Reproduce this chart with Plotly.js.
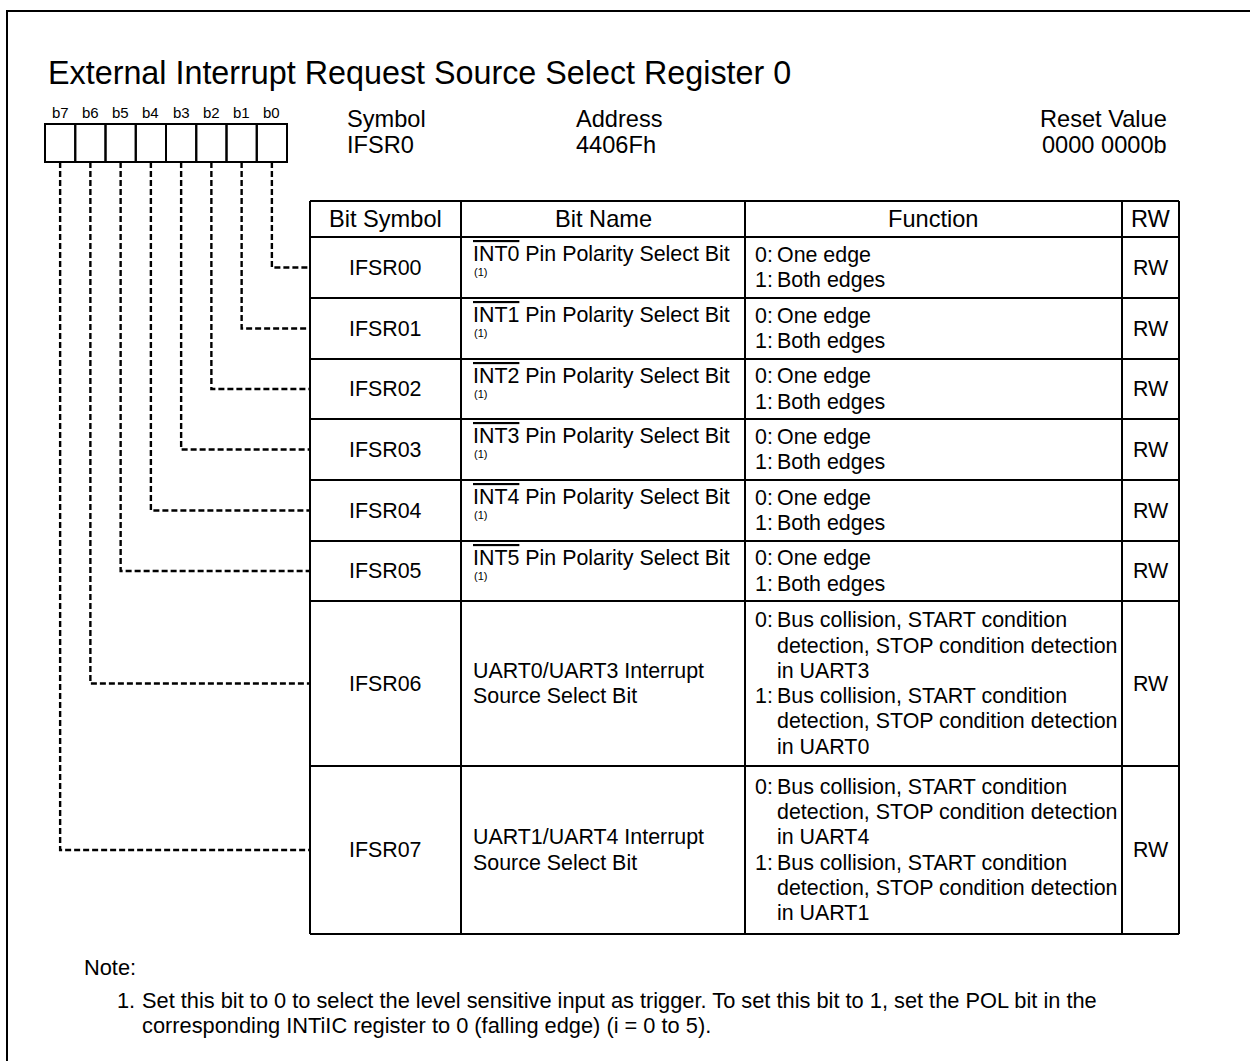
<!DOCTYPE html>
<html>
<head>
<meta charset="utf-8">
<script src="https://cdn.plot.ly/plotly-3.0.1.min.js"></script>
<style>html,body{margin:0;padding:0;background:#fff;}#chart{width:1250px;height:1061px;}</style>
</head>
<body>
<div id="chart"></div>
<script>
// ---- data ----
const chartTitle = 'External Interrupt Request Source Select Register 0';
const bitLabels = ['b7','b6','b5','b4','b3','b2','b1','b0'];
const infoLabels = ['Symbol','Address','Reset Value'];
const infoValues = ['IFSR0','4406Fh','0000 0000b'];
const headers = ['Bit Symbol','Bit Name','Function','RW'];
const bitSymbols = ['IFSR00','IFSR01','IFSR02','IFSR03','IFSR04','IFSR05','IFSR06','IFSR07'];
const pinNames = ['INT0','INT1','INT2','INT3','INT4','INT5','',''];
const bitNames = [
  [' Pin Polarity Select Bit'],
  [' Pin Polarity Select Bit'],
  [' Pin Polarity Select Bit'],
  [' Pin Polarity Select Bit'],
  [' Pin Polarity Select Bit'],
  [' Pin Polarity Select Bit'],
  ['UART0/UART3 Interrupt','Source Select Bit'],
  ['UART1/UART4 Interrupt','Source Select Bit']
];
const noteRefs = ['(1)','(1)','(1)','(1)','(1)','(1)','',''];
const functions = [
  [['0:','One edge'],['1:','Both edges']],
  [['0:','One edge'],['1:','Both edges']],
  [['0:','One edge'],['1:','Both edges']],
  [['0:','One edge'],['1:','Both edges']],
  [['0:','One edge'],['1:','Both edges']],
  [['0:','One edge'],['1:','Both edges']],
  [['0:','Bus collision, START condition'],['','detection, STOP condition detection'],['','in UART3'],
   ['1:','Bus collision, START condition'],['','detection, STOP condition detection'],['','in UART0']],
  [['0:','Bus collision, START condition'],['','detection, STOP condition detection'],['','in UART4'],
   ['1:','Bus collision, START condition'],['','detection, STOP condition detection'],['','in UART1']]
];
const rwValues = ['RW','RW','RW','RW','RW','RW','RW','RW'];
const noteTitle = 'Note:';
const noteLines = [
  ['1.','Set this bit to 0 to select the level sensitive input as trigger. To set this bit to 1, set the POL bit in the'],
  ['','corresponding INTiIC register to 0 (falling edge) (i = 0 to 5).']
];

// ---- layout geometry (pixels) ----
const FONT = 'Liberation Sans, Arial, sans-serif';
const FS = 21.4;
const FS_HEAD = 23.6;
const FS_NOTE = 21.8;
const LINE = 25.3;
const regX0 = 45, regW = 30.25, regY0 = 124, regY1 = 162;
const colX = [310, 461, 745, 1122, 1179];
const rowY = [201, 237, 298, 359, 419, 480, 541, 601, 766, 934];

const shapes = [];
const ann = [];
const black = '#000';
function fnt(size) { return {family: FONT, size: size, color: black}; }
function txt(x, y, text, opts) {
  opts = opts || {};
  ann.push(Object.assign({
    x: x, y: y, xref: 'x', yref: 'y', text: text, showarrow: false,
    xanchor: 'left', yanchor: 'middle', align: 'left',
    font: fnt(FS)
  }, opts));
}
function line(x0, y0, x1, y1, w, dash) {
  shapes.push({type: 'line', xref: 'x', yref: 'y', x0: x0, y0: y0, x1: x1, y1: y1,
    line: {color: black, width: w || 2, dash: dash || 'solid'}});
}

// outer frame
shapes.push({type: 'rect', xref: 'x', yref: 'y', x0: 7, y0: 11, x1: 1300, y1: 1120,
  line: {color: black, width: 2}, fillcolor: 'rgba(0,0,0,0)'});

// title
txt(46, 73, chartTitle, {font: fnt(32.3)});

// register boxes
bitLabels.forEach(function (b, i) {
  const x0 = regX0 + i * regW;
  shapes.push({type: 'rect', xref: 'x', yref: 'y', x0: x0, y0: regY0, x1: x0 + regW, y1: regY1,
    line: {color: black, width: 2}});
  txt(x0 + regW / 2, 112, b, {xanchor: 'center', font: fnt(15)});
});

// symbol / address / reset
txt(345, 119, infoLabels[0], {font: fnt(FS_HEAD)}); txt(345, 145, infoValues[0], {font: fnt(FS_HEAD)});
txt(574, 119, infoLabels[1], {font: fnt(FS_HEAD)}); txt(574, 145, infoValues[1], {font: fnt(FS_HEAD)});
txt(1169, 119, infoLabels[2], {xanchor: 'right', align: 'right', font: fnt(FS_HEAD)});
txt(1169, 145, infoValues[2], {xanchor: 'right', align: 'right', font: fnt(FS_HEAD)});

// table grid
colX.forEach(function (x) { line(x, rowY[0], x, rowY[rowY.length - 1], 2); });
rowY.forEach(function (y) { line(colX[0], y, colX[colX.length - 1], y, 2); });

// headers
headers.forEach(function (h, i) {
  txt((colX[i] + colX[i + 1]) / 2, (rowY[0] + rowY[1]) / 2, h, {xanchor: 'center', font: fnt(FS_HEAD)});
});

// rows
bitSymbols.forEach(function (s, r) {
  const top = rowY[r + 1], bot = rowY[r + 2], mid = (top + bot) / 2;
  txt((colX[0] + colX[1]) / 2, mid, s, {xanchor: 'center'});
  // bit name
  if (pinNames[r]) {
    txt(471, top + 17, '<span style="text-decoration:overline">' + pinNames[r] + '</span>' + bitNames[r][0]);
    txt(472, top + 35, noteRefs[r], {font: fnt(11)});
  } else {
    const n = bitNames[r].length;
    bitNames[r].forEach(function (l, k) {
      txt(471, mid + (k - (n - 1) / 2) * LINE, l);
    });
  }
  // function
  const fl = functions[r];
  fl.forEach(function (pair, k) {
    const y = mid + (k - (fl.length - 1) / 2) * LINE;
    if (pair[0]) txt(753, y, pair[0]);
    txt(775, y, pair[1]);
  });
  // RW
  txt((colX[3] + colX[4]) / 2, mid, rwValues[r], {xanchor: 'center'});
  // dashed leader from bit box
  const bitIdx = 7 - r;
  const bx = regX0 + bitIdx * regW + regW / 2;
  shapes.push({type: 'path', xref: 'x', yref: 'y',
    path: 'M ' + bx + ' ' + regY1 + ' L ' + bx + ' ' + mid + ' L ' + colX[0] + ' ' + mid,
    line: {color: black, width: 2.4, dash: '6px,3px'}});
});

// notes
txt(82, 967, noteTitle, {font: fnt(FS_NOTE)});
noteLines.forEach(function (nl, k) {
  const y = 1000 + k * LINE;
  if (nl[0]) txt(115, y, nl[0], {font: fnt(FS_NOTE)});
  txt(140, y, nl[1], {font: fnt(FS_NOTE)});
});

Plotly.newPlot('chart', [], {
  width: 1250, height: 1061,
  margin: {l: 0, r: 0, t: 0, b: 0},
  paper_bgcolor: '#fff', plot_bgcolor: '#fff',
  showlegend: false,
  xaxis: {range: [0, 1250], visible: false, fixedrange: true},
  yaxis: {range: [1061, 0], visible: false, fixedrange: true},
  shapes: shapes,
  annotations: ann
}, {staticPlot: true, displayModeBar: false});
</script>
</body>
</html>
